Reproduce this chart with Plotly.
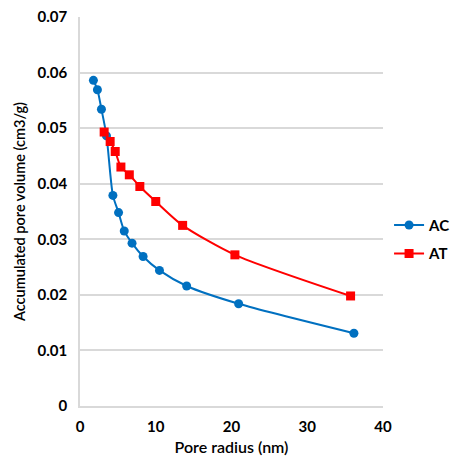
import plotly.graph_objects as go

ac_x = [1.77, 2.30, 2.83, 3.5, 4.34, 5.09, 5.84, 6.87, 8.33, 10.49, 14.08, 20.94, 36.16]
ac_y = [0.0586, 0.0569, 0.0534, 0.0486, 0.0379, 0.0348, 0.0315, 0.0293, 0.0269, 0.0244, 0.0216, 0.0184, 0.0131]

at_x = [3.19, 3.98, 4.65, 5.40, 6.51, 7.90, 10.0, 13.55, 20.45, 35.72]
at_y = [0.0493, 0.0476, 0.0458, 0.0430, 0.0416, 0.0395, 0.0368, 0.0325, 0.0272, 0.0198]

x_ticks = [0, 10, 20, 30, 40]
y_ticks = [0, 0.01, 0.02, 0.03, 0.04, 0.05, 0.06, 0.07]
y_labels = ["0", "0.01", "0.02", "0.03", "0.04", "0.05", "0.06", "0.07"]

font_family = "Lato, Open Sans, sans-serif"

fig = go.Figure()
fig.add_trace(go.Scatter(
    x=ac_x, y=ac_y, name="AC", mode="lines+markers", legendgroup="ac",
    line=dict(color="#0070C0", width=2, shape="spline", smoothing=0.7),
    marker=dict(symbol="circle", size=9, color="#0070C0"),
))
fig.add_trace(go.Scatter(
    x=at_x, y=at_y, name="AT", mode="lines+markers", legendgroup="at",
    line=dict(color="#FF0000", width=2, shape="spline", smoothing=0.7),
    marker=dict(symbol="square", size=9, color="#FF0000"),
))

fig.update_layout(
    width=450, height=462,
    margin=dict(l=80, r=67, t=17, b=56, autoexpand=False),
    paper_bgcolor="white", plot_bgcolor="white",
    font=dict(family=font_family, color="#000000"),
    showlegend=True,
    legend=dict(
        x=1.02, y=0.507, xanchor="left", yanchor="top",
        font=dict(size=15, family=font_family, weight="bold"),
        bgcolor="rgba(0,0,0,0)", itemwidth=30,
        traceorder="grouped", tracegroupgap=6,
    ),
    xaxis=dict(
        range=[0, 40], tickvals=x_ticks, showgrid=False, zeroline=False,
        showline=True, linecolor="#D9D9D9", linewidth=1.5,
        ticks="", tickfont=dict(size=15, weight="bold"), ticklabelstandoff=6,
        title=dict(text="Pore radius (nm)", font=dict(size=16, weight=600), standoff=8),
    ),
    yaxis=dict(
        range=[0, 0.07], tickvals=y_ticks, ticktext=y_labels,
        showgrid=True, gridcolor="#D9D9D9", gridwidth=1.5, zeroline=False,
        showline=True, linecolor="#D9D9D9", linewidth=1.5,
        ticks="", tickfont=dict(size=15, weight="bold"), ticklabelstandoff=8,
        title=dict(text="Accumulated pore volume (cm3/g)", font=dict(size=14.5, weight=600), standoff=9),
    ),
)

fig.write_html("out.html")
